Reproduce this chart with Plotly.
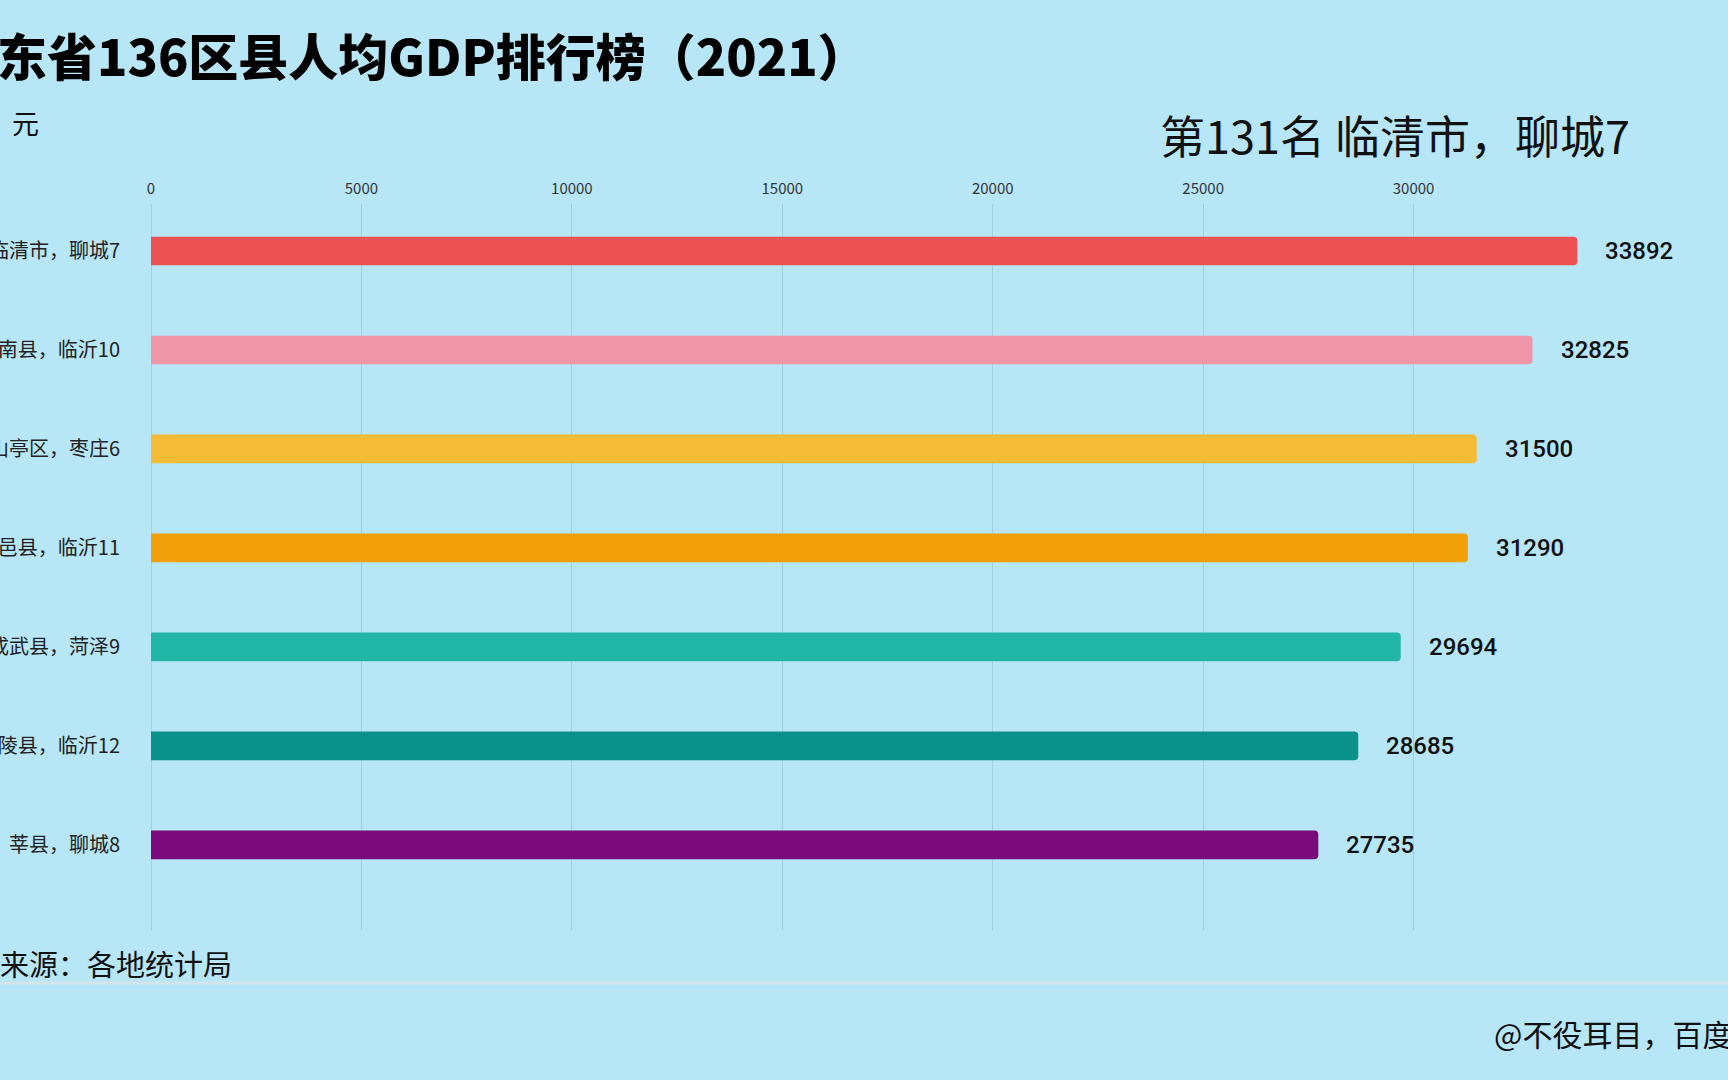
import plotly.graph_objects as go

# ---- data ----
names = ["临清市，聊城7", "沂南县，临沂10", "山亭区，枣庄6", "平邑县，临沂11",
         "成武县，菏泽9", "兰陵县，临沂12", "莘县，聊城8"]
values = [33892, 32825, 31500, 31290, 29694, 28685, 27735]
colors = ["#EE5151", "#EE95A8", "#F4BB37", "#F2A10B", "#22B6A8", "#0A918A", "#7A0A7B"]
tick_vals = [0, 5000, 10000, 15000, 20000, 25000, 30000]
title_text = "山东省136区县人均GDP排行榜（2021）"
rank_text = "第131名 临清市，聊城7"
unit_text = "单位：元"
source_text = "数据来源：各地统计局"
credit_text = "@不役耳目，百度"

# ---- layout geometry ----
W, H = 1728, 1080
ML, MR, MT, MB = 151, 125, 204, 150
PW, PH = W - ML - MR, H - MT - MB
BG = "#B7E6F7"
FONT = "Noto Sans CJK SC"


def px(x):
    return (x - ML) / PW


def py(y):
    return (H - MB - y) / PH


fig = go.Figure()
fig.add_trace(go.Bar(
    x=values, y=names, orientation="h", width=0.29,
    marker=dict(color=colors, cornerradius=4, line=dict(width=0)),
    hoverinfo="skip",
))

annotations = []
for n, v in zip(names, values):
    annotations.append(dict(
        x=v, y=n, xref="x", yref="y", text=str(v), showarrow=False,
        xanchor="left", yanchor="middle", xshift=26,
        font=dict(family="Roboto", size=24, color="#111111", weight=500),
    ))

annotations += [
    dict(x=px(870), y=py(54), xref="paper", yref="paper", text=title_text,
         showarrow=False, xanchor="right", yanchor="middle",
         font=dict(family=FONT, size=50, color="#000000", weight=900)),
    dict(x=px(41), y=py(122), xref="paper", yref="paper", text=unit_text,
         showarrow=False, xanchor="right", yanchor="middle",
         font=dict(family=FONT, size=27, color="#111111")),
    dict(x=px(1632), y=py(134), xref="paper", yref="paper", text=rank_text,
         showarrow=False, xanchor="right", yanchor="middle",
         font=dict(family=FONT, size=45, color="#111111")),
    dict(x=px(234), y=py(963), xref="paper", yref="paper", text=source_text,
         showarrow=False, xanchor="right", yanchor="middle",
         font=dict(family=FONT, size=29, color="#111111")),
    dict(x=px(1492), y=py(1033), xref="paper", yref="paper", text=credit_text,
         showarrow=False, xanchor="left", yanchor="middle",
         font=dict(family=FONT, size=30, color="#111111")),
]

fig.update_layout(
    width=W, height=H, template="none",
    paper_bgcolor=BG, plot_bgcolor=BG,
    margin=dict(l=ML, r=MR, t=MT, b=MB, pad=0),
    showlegend=False,
    font=dict(family=FONT, color="#222222"),
    annotations=annotations,
    shapes=[dict(type="line", xref="paper", yref="paper",
                 x0=px(0), x1=px(W), y0=py(983), y1=py(983),
                 line=dict(color="#D3E5EB", width=3))],
    xaxis=dict(
        side="top", range=[0, 34500], tickmode="array", tickvals=tick_vals,
        ticktext=[str(t) for t in tick_vals],
        tickfont=dict(family=FONT, size=15, color="#333333"),
        ticks="outside", ticklen=3, tickcolor="rgba(0,0,0,0)",
        showgrid=True, gridcolor="#A5CEDD", gridwidth=1,
        zeroline=True, zerolinecolor="#A5CEDD", zerolinewidth=1,
        showline=False, automargin=False, fixedrange=True,
    ),
    yaxis=dict(
        type="category", categoryorder="array", categoryarray=names,
        range=[6.86, -0.475],
        tickfont=dict(family=FONT, size=20, color="#222222"),
        ticks="outside", ticklen=26, tickcolor="rgba(0,0,0,0)",
        showgrid=False, zeroline=False, showline=False, automargin=False,
        fixedrange=True,
    ),
)

fig.write_html("out.html")
